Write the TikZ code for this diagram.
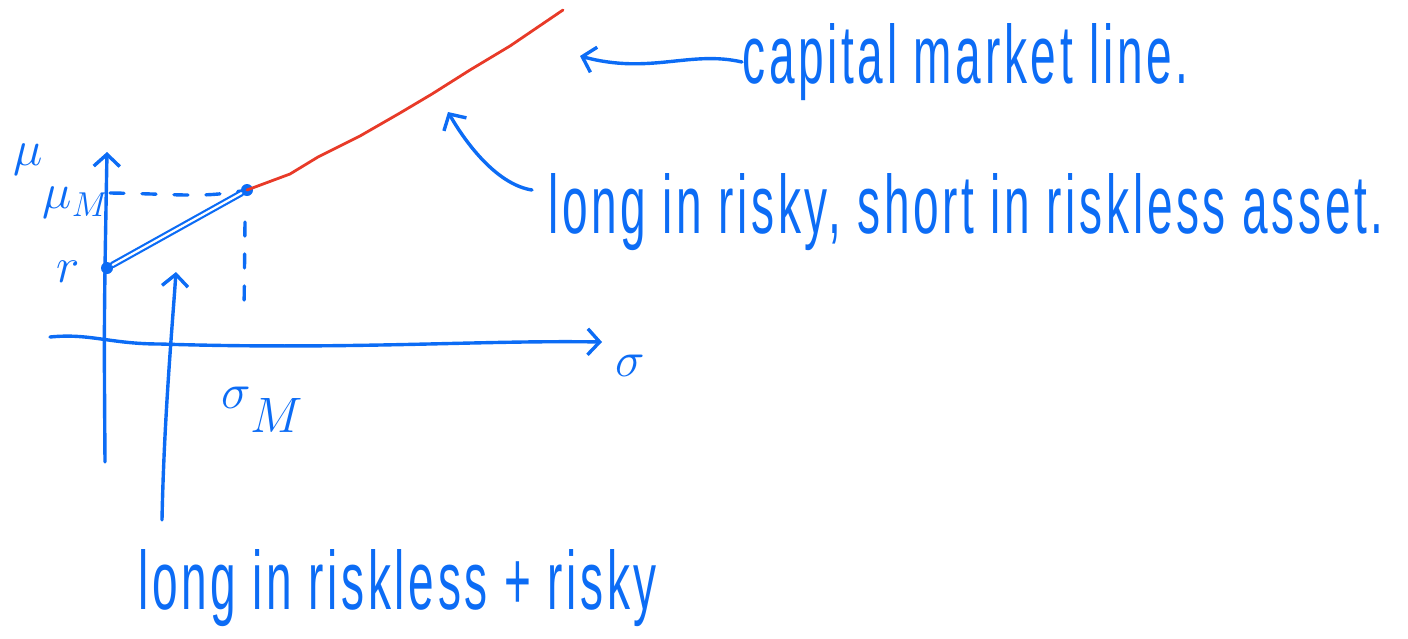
\documentclass[tikz,border=0pt]{standalone}
\usepackage{fontspec}
\setmainfont{Liberation Sans}
\usetikzlibrary{arrows.meta}
\definecolor{pen}{RGB}{12,108,245}
\definecolor{redpen}{RGB}{232,58,40}
\tikzset{
  ink/.style={draw=pen, line width=1.7pt, line cap=round, line join=round},
  redink/.style={draw=redpen, line width=1.4pt, line cap=round, line join=round},
  hand/.style={text=pen, font=\fontsize{23}{27}\selectfont\addfontfeature{LetterSpace=8}, inner sep=0pt},
  sym/.style={text=pen, font=\fontsize{24}{28}\selectfont, inner sep=0pt},
  barb/.style={-{Straight Barb[length=6pt,width=13pt]}},
  dot/.style={circle, fill=pen, inner sep=0pt, minimum size=6pt},
  dashedink/.style={ink, dash pattern=on 7pt off 9pt},
}
\begin{document}
\begin{tikzpicture}[x=0.5pt,y=-0.5pt]
\path[use as bounding box] (0,0) rectangle (1408,638);

% axes
\coordinate (vb) at (105,462);
\coordinate (vt) at (107,152);
\draw[ink,barb] (vb) .. controls (104,320) .. (vt);
\coordinate (hl) at (50,337);
\coordinate (hr) at (602,342);
\draw[ink,barb] (hl) .. controls (90,333) and (110,344) .. (160,344)
  .. controls (350,350) and (480,340) .. (hr);

% points
\node[dot] (r) at (107,268) {};
\node[dot] (M) at (247,190) {};

% dashed guides
\coordinate (muTick) at (110,193);
\draw[dashedink] (muTick) .. controls (180,194) and (200,198) .. (M);
\coordinate (sTop) at (245,222);
\coordinate (sBot) at (244,315);
\draw[dashedink] (sTop) -- (sBot);

% segment r--M (double stroke)
\draw[draw=pen, line width=1.1pt, double=white, double distance=1.1pt, line cap=round] (r) -- (M);

% capital market line (red)
\coordinate (cmlEnd) at (563,10);
\draw[redink] (M.center) -- (290,174) -- (318,157) -- (360,136) -- (400,113)
  -- (432,94) -- (470,70) -- (510,46) -- (cmlEnd);

% axis labels
\node[sym] (mu) at (28,160) {$\mu$};
\node[sym] (muM) at (76,203) {$\mu_M$};
\node[sym] (rl) at (68,272) {$r$};
\node[sym] (sig) at (630,366) {$\sigma$};
\node[sym] (sigM) at (262,410) {$\sigma\raisebox{-12pt}{$M$}$};

% annotations
\node[hand, anchor=west] (cml) at (742,62) {\scalebox{1}[1.8]{capital market line.}};
\node[hand, anchor=west] (lr) at (548,212) {\scalebox{1}[1.8]{long in risky, short in riskless asset.}};
\node[hand, anchor=west] (lrr) at (138,588) {\scalebox{1}[1.8]{long in riskless + risky}};

% annotation arrows
\coordinate (cmlTip) at (580,56);
\draw[ink,barb] (cml.west) .. controls (690,50) and (650,75) .. (cmlTip);
\coordinate (lrTail) at (532,190);
\coordinate (lrTip) at (448,112);
\draw[ink,barb] (lrTail) .. controls (500,185) and (470,150) .. (lrTip);
\coordinate (lrrTail) at (162,520);
\coordinate (lrrTip) at (176,272);
\draw[ink,barb] (lrrTail) .. controls (164,420) and (172,330) .. (lrrTip);
\end{tikzpicture}
\end{document}
